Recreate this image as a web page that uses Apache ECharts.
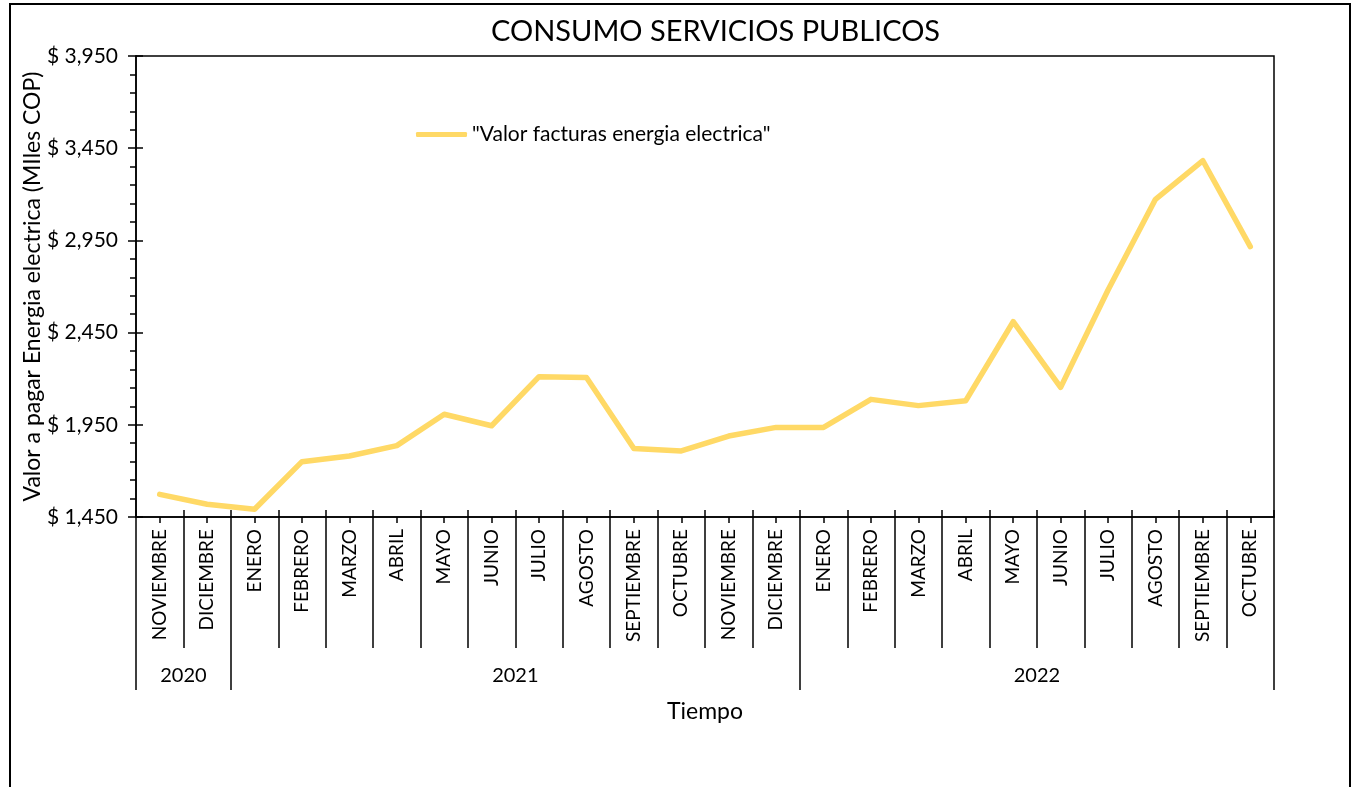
<!DOCTYPE html>
<html><head><meta charset="utf-8">
<script src="https://cdn.jsdelivr.net/npm/echarts@6/dist/echarts.min.js"></script>
<style>html,body{margin:0;padding:0;background:#fff}#c{width:1356px;height:787px}</style>
</head><body><div id="c"></div>
<script>
const months = ['NOVIEMBRE','DICIEMBRE','ENERO','FEBRERO','MARZO','ABRIL','MAYO','JUNIO','JULIO','AGOSTO','SEPTIEMBRE','OCTUBRE','NOVIEMBRE','DICIEMBRE','ENERO','FEBRERO','MARZO','ABRIL','MAYO','JUNIO','JULIO','AGOSTO','SEPTIEMBRE','OCTUBRE'];
const years = ['2020','2021','2022'];
const monthsPerYear = [2, 12, 10];
const valores = [1573,1519,1492,1750,1781,1837,2007,1945,2211,2207,1822,1808,1889,1936,1936,2088,2054,2081,2509,2153,2681,3173,3382,2916];
const yTicks = [1450,1950,2450,2950,3450,3950];

const FONT = 'Lato';
const yearBounds = [0];
monthsPerYear.forEach(n => yearBounds.push(yearBounds[yearBounds.length-1] + n));
const yearCenters = monthsPerYear.map((n,i) => yearBounds[i] + n/2);
const fmtMoney = v => '$ ' + v.toLocaleString('en-US');

const chart = echarts.init(document.getElementById('c'), null, {renderer:'canvas'});
const line = {color:'#000', width:1.5};
chart.setOption({
  animation:false,
  backgroundColor:'#fff',
  title:{text:'CONSUMO SERVICIOS PUBLICOS', left:486, top:12,
    textStyle:{fontFamily:FONT, fontSize:29, fontWeight:'normal', color:'#000'}},
  legend:{left:411, top:119, icon:'roundRect', itemWidth:51, itemHeight:5, itemGap:4,
    textStyle:{fontFamily:FONT, fontSize:21, color:'#000'},
    data:['"Valor facturas energia electrica"']},
  graphic:[{type:'rect', shape:{x:10,y:4,width:1340,height:820}, style:{fill:'none', stroke:'#000', lineWidth:2}, silent:true}],
  grid:{left:136, right:82, top:56, bottom:270, show:true, borderColor:'#000', borderWidth:1.5},
  xAxis:[
    {type:'category', data:months, position:'bottom', boundaryGap:true,
     axisLine:{onZero:false, lineStyle:line},
     axisTick:{show:true, interval:0, length:131, lineStyle:line},
     axisLabel:{interval:0, rotate:90, margin:12, fontFamily:FONT, fontSize:19, color:'#000'},
     name:'Tiempo', nameLocation:'middle', nameGap:183,
     nameTextStyle:{fontFamily:FONT, fontSize:23, color:'#000'}},
    {type:'category', data:months, position:'bottom', boundaryGap:true,
     axisLine:{show:false}, axisLabel:{show:false},
     axisTick:{show:true, interval:0, alignWithLabel:true, length:6, lineStyle:line}},
    {type:'category', data:months, position:'bottom', boundaryGap:true,
     axisLine:{show:false}, axisLabel:{show:false},
     axisTick:{show:true, interval:0, inside:true, length:7, lineStyle:line}},
    {type:'value', min:0, max:months.length, position:'bottom',
     axisLine:{show:false}, splitLine:{show:false},
     axisTick:{show:true, customValues:yearBounds, length:173, lineStyle:line},
     axisLabel:{customValues:yearCenters, margin:149, fontFamily:FONT, fontSize:20, color:'#000',
       formatter:v => years[yearCenters.indexOf(v)]}}
  ],
  yAxis:[
    {type:'value', min:yTicks[0], max:yTicks[yTicks.length-1], interval:yTicks[1]-yTicks[0],
     axisLine:{show:true, onZero:false, lineStyle:line},
     axisTick:{show:true, length:8, lineStyle:line},
     minorTick:{show:true, splitNumber:5, length:6, lineStyle:{color:'#000', width:1.5}},
     splitLine:{show:false},
     axisLabel:{margin:18, fontFamily:FONT, fontSize:21, color:'#000', formatter:fmtMoney},
     name:'Valor a pagar Energia electrica (MIles COP)', nameLocation:'middle', nameGap:92,
     nameMoveOverlap:false,
     nameTextStyle:{fontFamily:FONT, fontSize:23, color:'#000'}},
    {type:'value', min:yTicks[0], max:yTicks[yTicks.length-1], interval:yTicks[1]-yTicks[0],
     position:'left', axisLine:{show:false}, axisLabel:{show:false}, splitLine:{show:false},
     axisTick:{show:true, inside:true, length:7, lineStyle:line}}
  ],
  series:[{type:'line', name:'"Valor facturas energia electrica"', data:valores,
    xAxisIndex:0, yAxisIndex:0, symbol:'none',
    lineStyle:{color:'#FFD966', width:5.5, cap:'round', join:'round'}, itemStyle:{color:'#FFD966'}}]
});
</script></body></html>
